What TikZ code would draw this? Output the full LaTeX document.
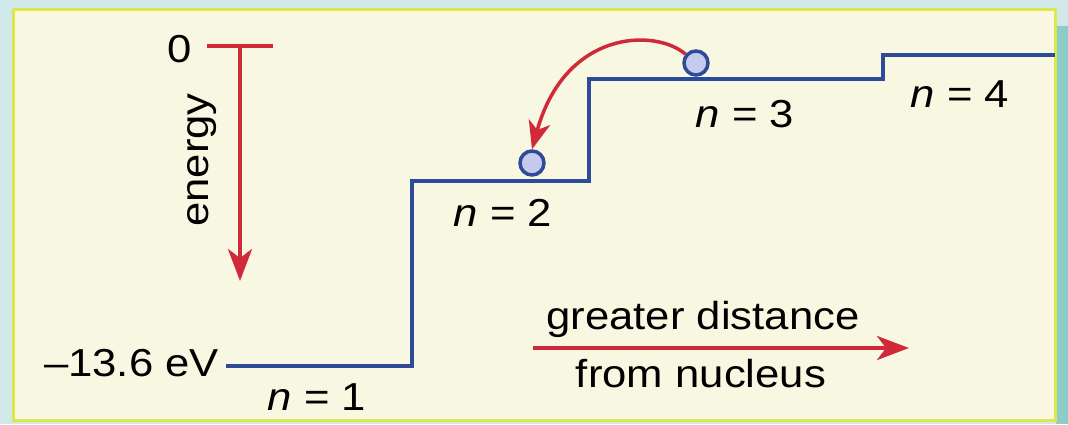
\documentclass[tikz,border=0pt]{standalone}
\usepackage{fontspec}
\setmainfont{Liberation Sans}[FakeStretch=1.12]
\usetikzlibrary{arrows.meta}
\definecolor{bgblue}{HTML}{D0E8E9}
\definecolor{bgteal}{HTML}{8ECBCB}
\definecolor{panel}{HTML}{F8F7E2}
\definecolor{frame}{HTML}{DCE84A}
\definecolor{lvlblue}{HTML}{2E4B9A}
\definecolor{arrred}{HTML}{D02A3A}
\definecolor{elfill}{HTML}{C6CBEE}
\tikzset{
  lbl/.style={inner sep=0pt, outer sep=0pt, text=black, font=\fontsize{39}{42}\selectfont},
  level/.style={draw=lvlblue, line width=3.5pt, line join=miter},
  redline/.style={draw=arrred, line width=4pt},
  redarrow/.style={redline, -{Stealth[length=32pt,width=24pt,inset=9pt]}},
  electron/.style={circle, draw=lvlblue, fill=elfill, line width=3.5pt, minimum size=24pt, inner sep=0pt}
}
\begin{document}
\begin{tikzpicture}[x=1pt,y=-1pt]
\useasboundingbox (0,0) rectangle (1068,424);
% background
\fill[bgblue] (0,0) rectangle (1068,424);
\fill[bgteal] (1056,26) rectangle (1068,424);
\fill[panel] (13,9) rectangle (1055,420);
\draw[frame, line width=3pt] (13,9) rectangle (1055,420);

% energy axis
\node[lbl, anchor=base] (l0) at (180,62) {0};
\coordinate (tl) at (207,46);
\coordinate (tr) at (273,46);
\coordinate (ttop) at (240,46);
\coordinate (tbot) at (240,281);
\draw[redline] (tl) -- (tr);
\draw[redarrow] (ttop) -- (tbot);
\node[lbl, rotate=90, anchor=base] (en) at (208,160) {energy};

% levels
\node[lbl, anchor=base east] (lev) at (219,376) {–13.6 eV};
\coordinate (s0) at (226,366);
\coordinate (s1) at (412,366);
\coordinate (s2) at (412,181);
\coordinate (s3) at (589,181);
\coordinate (s4) at (589,79);
\coordinate (s5) at (883,79);
\coordinate (s6) at (883,55);
\coordinate (s7) at (1055,55);
\draw[level] (s0) -- (s1) -- (s2) -- (s3) -- (s4) -- (s5) -- (s6) -- (s7);

\node[lbl, anchor=base] (n1) at (317,410) {\textit{n} = 1};
\node[lbl, anchor=base] (n2) at (503,226) {\textit{n} = 2};
\node[lbl, anchor=base] (n3) at (745,127) {\textit{n} = 3};
\node[lbl, anchor=base] (n4) at (960,107) {\textit{n} = 4};

% electrons and transition
\node[electron] (e3) at (696,63) {};
\node[electron] (e2) at (532,163) {};
\draw[redline, line width=3.5pt, -{Stealth[length=28pt,width=22pt,inset=8pt]}]
  (e3.140) .. controls (655,28) and (565,30) .. (e2.north);

% distance arrow
\node[lbl, anchor=base] (gd) at (703,329) {greater distance};
\node[lbl, anchor=base] (fn) at (701,387) {from nucleus};
\coordinate (da) at (533,348);
\coordinate (db) at (909,348);
\draw[redarrow] (da) -- (db);
\end{tikzpicture}
\end{document}
